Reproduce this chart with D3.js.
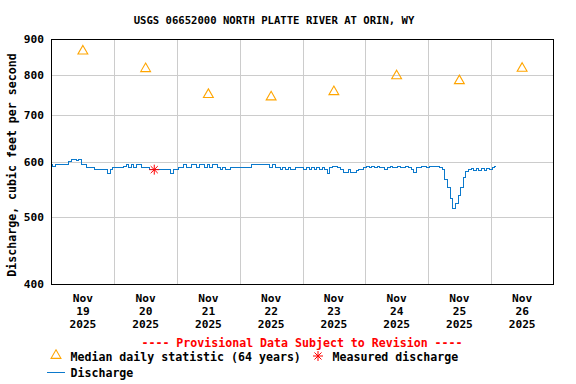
<!DOCTYPE html>
<html lang="en">
<head>
<meta charset="utf-8">
<title>USGS 06652000 North Platte River at Orin, WY</title>
<script src="https://d3js.org/d3.v7.min.js"></script>
<style>
  body { margin: 0; background: #fff; }
  text { font-family: "DejaVu Sans Mono", monospace; font-weight: bold; }
</style>
</head>
<body>
<script>

var width = 576,
    height = 384;

// --- data ---
var startDay = Date.UTC(2025, 10, 19);   // Nov 19 2025 00:00
var dayLabels = ["19", "20", "21", "22", "23", "24", "25", "26"];
var yTicks = [400, 500, 600, 700, 800, 900];

// median daily statistic (64 years), one per day at noon
var medianFlow = [866, 817, 750, 744, 757, 798, 785, 818];

// measured discharge (field measurement)
var measuredHour = 39.3;
var measuredFlow = 585;

// hourly discharge, cfs, starting Nov 19 00:00
var flow = [
  596, 592, 597, 596, 596, 596, 597, 602, 605, 605, 604, 605,
  597, 596, 591, 591, 590, 586, 586, 586, 586, 586, 578, 586,
  591, 591, 591, 591, 592, 597, 591, 597, 591, 597, 596, 591,
  591, 591, 586, 586, 586, 586, 586, 586, 586, 586, 578, 586,
  586, 591, 591, 597, 591, 591, 597, 597, 591, 597, 597, 591,
  597, 591, 597, 597, 591, 586, 591, 586, 586, 591, 591, 591,
  591, 591, 591, 591, 591, 597, 597, 597, 597, 597, 597, 597,
  591, 597, 591, 591, 586, 591, 586, 591, 586, 586, 591, 591,
  591, 586, 591, 586, 591, 586, 591, 586, 591, 586, 579, 591,
  592, 592, 591, 586, 581, 581, 586, 581, 581, 585, 586, 586,
  590, 593, 590, 593, 590, 593, 590, 590, 586, 590, 593, 590,
  590, 593, 590, 590, 593, 590, 586, 580, 590, 590, 593, 593,
  591, 593, 593, 593, 593, 590, 587, 568, 553, 532, 516, 524,
  538, 553, 570, 582, 586, 588, 585, 588, 585, 588, 585, 588,
  586, 590, 593
];

var HOUR = 3600 * 1000;

var svg = d3.select("body").append("svg")
    .attr("width", width)
    .attr("height", height);

var x = d3.scaleUtc()
    .domain([new Date(startDay), new Date(startDay + 8 * 24 * HOUR)])
    .range([51.5, 553.5]);

var y = d3.scaleLog()
    .domain([400, 900])
    .range([284.5, 39.5]);

// title
svg.append("text")
    .attr("x", 274)
    .attr("y", 24)
    .attr("text-anchor", "middle")
    .style("font-size", "10.6px")
    .text("USGS 06652000 NORTH PLATTE RIVER AT ORIN, WY");

// grid
var days = d3.range(1, 8).map(function(i) { return new Date(startDay + i * 24 * HOUR); });

svg.append("g")
  .selectAll("line")
  .data(days)
  .enter().append("line")
    .attr("x1", function(d) { return Math.round(x(d)) + 0.5; })
    .attr("x2", function(d) { return Math.round(x(d)) + 0.5; })
    .attr("y1", y(900))
    .attr("y2", y(400))
    .attr("stroke", "#cccccc")
    .attr("shape-rendering", "crispEdges");

svg.append("g")
  .selectAll("line")
  .data([500, 600, 700, 800])
  .enter().append("line")
    .attr("x1", x.range()[0])
    .attr("x2", x.range()[1])
    .attr("y1", function(d) { return Math.round(y(d)) + 0.5; })
    .attr("y2", function(d) { return Math.round(y(d)) + 0.5; })
    .attr("stroke", "#cccccc")
    .attr("shape-rendering", "crispEdges");

// y tick labels
svg.append("g")
  .selectAll("text")
  .data(yTicks)
  .enter().append("text")
    .attr("x", 44)
    .attr("y", function(d) { return y(d); })
    .attr("dy", "0.35em")
    .attr("text-anchor", "end")
    .style("font-size", "11.2px")
    .text(function(d) { return d; });

// y axis title
svg.append("text")
    .attr("transform", "translate(16," + 165 + ") rotate(-90)")
    .attr("text-anchor", "middle")
    .style("font-size", "11.6px")
    .text("Discharge, cubic feet per second");

// x tick labels at noon
var xl = svg.append("g")
  .selectAll("text")
  .data(dayLabels)
  .enter().append("text")
    .attr("text-anchor", "middle")
    .style("font-size", "11.2px")
    .attr("transform", function(d, i) {
      return "translate(" + x(new Date(startDay + (i + 0.5) * 24 * HOUR)) + ",0)";
    });
xl.append("tspan").attr("x", 0).attr("y", 302).text("Nov");
xl.append("tspan").attr("x", 0).attr("y", 315).text(function(d) { return d; });
xl.append("tspan").attr("x", 0).attr("y", 328).text("2025");

// discharge line (stepped, like the 15-minute record)
var line = d3.line()
    .curve(d3.curveStep)
    .x(function(d, i) { return x(new Date(startDay + i * HOUR)); })
    .y(function(d) { return Math.round(y(d)) + 0.5; });

svg.append("path")
    .datum(flow)
    .attr("d", line)
    .attr("fill", "none")
    .attr("stroke", "#0b79cc")
    .attr("stroke-width", 1)
    .attr("shape-rendering", "crispEdges");

// median triangles
var tri = d3.symbol().type(d3.symbolTriangle).size(42);

svg.append("g")
  .selectAll("path")
  .data(medianFlow)
  .enter().append("path")
    .attr("d", tri)
    .attr("transform", function(d, i) {
      return "translate(" + x(new Date(startDay + (i + 0.5) * 24 * HOUR)) + "," + y(d) + ")";
    })
    .attr("fill", "none")
    .attr("stroke", "#ffa500")
    .attr("stroke-width", 1.1);

// asterisk marker
function star(g, cx, cy, r) {
  var s = g.append("g").attr("transform", "translate(" + cx + "," + cy + ")");
  [0, 45, 90, 135].forEach(function(a) {
    var rad = a * Math.PI / 180;
    s.append("line")
      .attr("x1", -r * Math.cos(rad)).attr("y1", -r * Math.sin(rad))
      .attr("x2", r * Math.cos(rad)).attr("y2", r * Math.sin(rad))
      .attr("stroke", "#ff0000")
      .attr("stroke-width", 1);
  });
}
star(svg, x(new Date(startDay + measuredHour * HOUR)), y(measuredFlow), 5);

// plot border
svg.append("rect")
    .attr("x", x.range()[0])
    .attr("y", y(900))
    .attr("width", x.range()[1] - x.range()[0])
    .attr("height", y(400) - y(900))
    .attr("fill", "none")
    .attr("stroke", "#000")
    .attr("shape-rendering", "crispEdges");

// legend
svg.append("text")
    .attr("x", 302)
    .attr("y", 347)
    .attr("text-anchor", "middle")
    .attr("fill", "#ff0000")
    .style("font-size", "11.6px")
    .text("---- Provisional Data Subject to Revision ----");

svg.append("path")
    .attr("d", tri)
    .attr("transform", "translate(56,355.5)")
    .attr("fill", "none")
    .attr("stroke", "#ffa500")
    .attr("stroke-width", 1.1);
svg.append("text")
    .attr("x", 70.5)
    .attr("y", 360.5)
    .style("font-size", "11.6px")
    .text("Median daily statistic (64 years)");

star(svg, 318, 356, 5);
svg.append("text")
    .attr("x", 332.5)
    .attr("y", 360.5)
    .style("font-size", "11.6px")
    .text("Measured discharge");

svg.append("line")
    .attr("x1", 47).attr("x2", 65)
    .attr("y1", 372.5).attr("y2", 372.5)
    .attr("stroke", "#0b79cc")
    .attr("stroke-width", 1)
    .attr("shape-rendering", "crispEdges");
svg.append("text")
    .attr("x", 70.5)
    .attr("y", 376.5)
    .style("font-size", "11.6px")
    .text("Discharge");

</script>
</body>
</html>
